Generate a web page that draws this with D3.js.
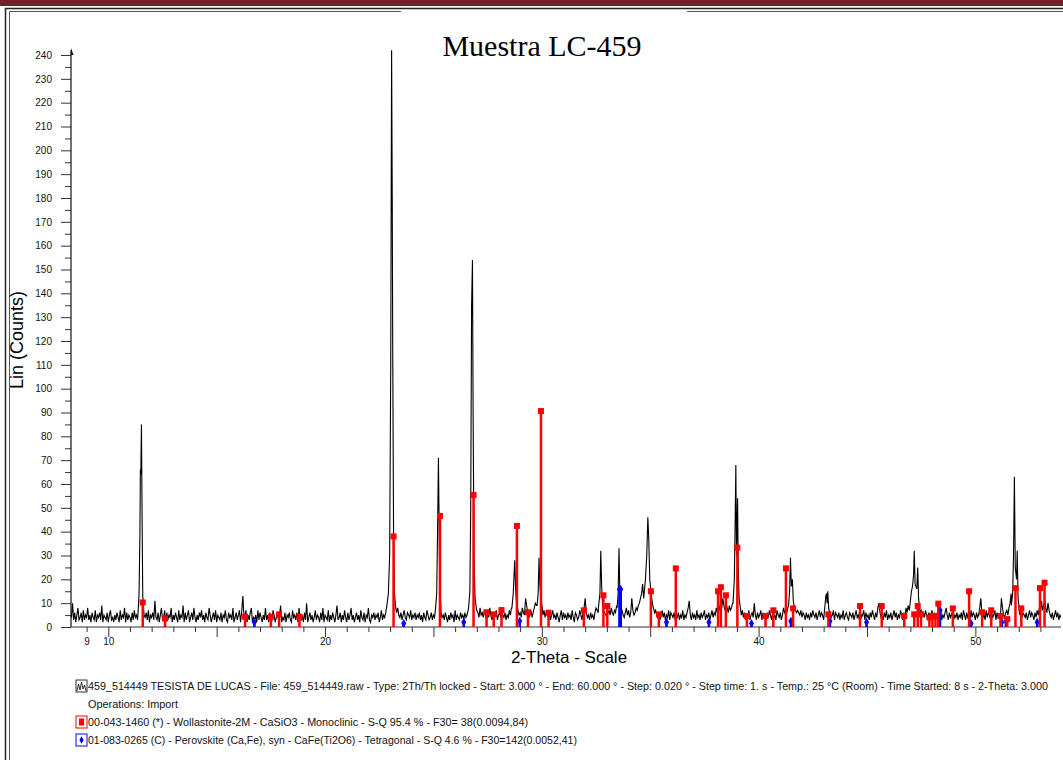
<!DOCTYPE html>
<html>
<head>
<meta charset="utf-8">
<script src="https://cdn.jsdelivr.net/npm/d3@7"></script>
<style>
body { margin: 0; background: #fff; }
svg { display: block; }
text { font-family: "Liberation Sans", Arial, sans-serif; }
</style>
</head>
<body>
<script>
// measured scan, 2-Theta from 8.30 deg, 0.05 deg per value, one row per degree
var scanStart = 8.30, scanStep = 0.05;
var scanRows = [
  [4,10,3,6,2,5,8,3,4,6,2,7,3,5,4,8,3,5,2,6],
  [4,3,7,2,5,4,6,3,9,2,5,4,3,6,2,5,7,3,4,2],
  [5,3,6,4,2,7,3,5,4,8,2,6,3,5,4,2,6,3,7,4],
  [5,3,8,4,6,9,7,5,4,6,3,7,2,5,4,6,3,11,4,3],
  [6,2,5,8,3,4,7,2,6,3,5,4,8,2,5,3,6,4,2,7],
  [3,5,4,9,2,6,3,5,7,2,4,6,3,8,4,2,5,3,6,4],
  [7,3,5,2,6,4,3,8,5,2,4,6,3,7,2,5,4,3,6,2],
  [5,4,7,3,2,6,4,5,3,8,2,4,6,3,5,7,2,4,3,6],
  [4,7,2,5,3,6,8,2,4,3,5,2,7,3,6,4,2,5,3,8],
  [3,5,2,6,4,3,7,5,2,4,6,3,5,9,2,4,3,6,2,5],
  [4,6,3,2,7,4,5,3,6,2,8,4,3,5,2,6,3,10,2,4],
  [6,3,5,2,4,7,3,5,4,2,6,3,8,2,5,4,3,7,2,5],
  [3,6,4,2,5,9,3,4,6,2,5,3,7,4,2,6,3,5,8,3],
  [5,2,4,6,3,5,2,7,4,3,6,2,5,4,8,3,2,5,4,6],
  [3,5,4,6,2,4,7,3,5,4,6,8,5,7,10,12,9,6,4,5],
  [6,8,5,4,6,3,5,7,4,3,6,5,4,7,3,5,4,6,3,5],
  [4,6,3,5,2,6,4,3,7,5,3,4,6,3,5,4,7,6,8,5],
  [9,6,4,5,3,6,4,2,5,3,6,4,5,2,7,3,5,4,3,6],
  [4,5,3,6,4,5,7,6,8,10,12,9,6,5,7,6,4,8,5,6],
  [4,7,5,3,6,4,8,5,3,6,4,5,7,3,5,6,4,7,5,4],
  [6,3,5,4,7,5,8,6,9,12,14,10,7,5,6,4,8,6,5,12],
  [9,6,4,5,7,4,6,8,10,9,16,20,12,7,6,5,7,4,6,5],
  [4,6,3,5,7,4,5,3,6,4,2,5,7,3,6,4,5,3,6,4],
  [5,3,7,4,2,6,5,3,4,7,5,3,6,8,12,6,4,5,3,6],
  [4,5,3,6,8,7,6,9,10,14,12,8,6,5,4,6,7,5,8,6],
  [5,7,6,9,8,12,14,10,7,5,4,6,8,5,7,4,6,12,7,5],
  [6,8,7,9,10,12,14,18,22,30,40,46,35,20,14,12,9,8,6,7],
  [5,4,6,3,5,7,4,6,3,5,4,7,3,6,5,4,6,3,5,4],
  [6,3,5,4,7,3,5,4,6,8,11,5,3,6,4,5,3,7,4,5],
  [3,6,4,5,7,3,5,4,6,3,5,7,4,6,5,8,6,9,7,11],
  [8,12,9,7,10,8,6,9,7,8,10,9,8,6,7,5,6,4,5,7],
  [4,6,3,5,4,7,3,5,6,4,10,5,3,6,4,5,7,3,6,4],
  [5,3,6,4,7,5,3,6,4,5,3,7,5,4,6,3,5,8,6,7],
  [6,8,7,9,8,10,9,8,7,6,7,6,5,7,4,6,5,3,6,4],
  [5,3,6,4,7,5,4,6,3,5,7,4,6,5,3,6,4,8,6,7],
  [6,4,5,7,3,6,5,4,6,3,5,4,7,3,5,6,4,3,6,5],
  [4,6,3,5,7,4,5,3,6,4,5,7,3,6,4,5,3,6,4,7],
  [5,3,6,4,8,10,6,4,5,3,6,4,7,3,5,4,6,3,5,7],
  [4,6,3,5,4,7,5,3,6,4,8,6,9,7,10,12,15,20,31,18],
  [24,12,8,6,7,5,6,4,7,5,3,6,4,5,7,3,6,4,5,3],
  [6,4,7,3,5,4,6,8,5,3,6,4,5,7,3,5,4,6,3,5],
  [4,6,3,7,5,3,6,4,5,3,7,4,6,5,3,6,4,5,8,12],
  [6,4,5,3,7,4,6,5,3,6,4,5,7,3,6,4,5,3,12,8],
  [5,4,6,7,5,8,10,14,30,63,31,15,9,7,6,5,7,4,6,5],
  [4,6,3,5,7,4,6,5,3,6,4,7,5,8,6,11,7,9,11,8],
  [6,10,7,5,4,6,3,5,7,4,6,3,5,4]
];

// reflections read at finer spacing: [2-Theta, counts]
var peakProfiles = [
  [[11.38,7],[11.42,14],[11.46,40],[11.48,66],[11.50,64],[11.53,85],[11.56,45],[11.59,13],[11.63,8]],
  [[16.15,6],[16.19,11],[16.21,13],[16.24,7]],
  [[22.85,9],[22.92,14],[22.98,30],[23.03,110],[23.07,242],[23.10,178],[23.12,120],[23.16,40],[23.20,14],[23.26,8]],
  [[25.10,8],[25.15,14],[25.19,40],[25.23,71],[25.26,45],[25.29,18],[25.34,9]],
  [[26.62,8],[26.68,15],[26.72,50],[26.76,135],[26.80,154],[26.83,90],[26.87,30],[26.92,12],[26.98,8]],
  [[28.62,8],[28.68,14],[28.72,22],[28.75,28],[28.79,16],[28.84,9]],
  [[29.78,9],[29.83,14],[29.87,29],[29.91,18],[29.96,12],[30.02,8]],
  [[32.62,9],[32.68,14],[32.72,32],[32.76,17],[32.80,10],[32.85,7]],
  [[33.47,8],[33.52,14],[33.56,33],[33.60,14],[33.65,8]],
  [[34.70,12],[34.78,20],[34.84,30],[34.89,46],[34.93,38],[34.98,20],[35.05,13],[35.12,9]],
  [[38.82,10],[38.88,20],[38.92,45],[38.95,68],[38.98,30],[39.03,54],[39.06,25],[39.10,12],[39.16,8]],
  [[41.38,9],[41.43,15],[41.47,29],[41.51,17],[41.56,20],[41.60,11],[41.66,7]],
  [[43.05,8],[43.10,13],[43.13,14],[43.16,10],[43.19,15],[43.23,8]],
  [[46.98,9],[47.05,15],[47.10,17],[47.15,22],[47.18,32],[47.22,18],[47.30,16],[47.34,25],[47.38,12],[47.44,7]],
  [[51.66,9],[51.72,14],[51.76,30],[51.80,63],[51.84,25],[51.90,20],[51.93,32],[51.97,12],[52.03,7]]
];

// 00-043-1460 Wollastonite-2M sticks [2-Theta, counts]
var wollastonite = [
  [11.59,10.3],[12.62,3.6],[16.31,4.3],[17.50,4.3],[17.88,5.3],[18.82,4.3],
  [23.16,38],[25.30,46.6],[26.85,55.4],[27.45,6.2],[27.78,5.3],[28.14,7.1],
  [28.85,42.4],[29.36,6.2],[29.96,90.6],[30.31,6],[31.94,7],[32.84,13.3],
  [33.02,8.8],[35.03,15],[35.40,5.3],[36.18,24.6],[38.13,15],[38.26,16.7],
  [38.49,13.3],[39.02,33.3],[39.46,4.6],[40.32,4.6],[40.68,7],[41.26,24.6],
  [41.59,7.8],[43.22,5.3],[44.68,8.8],[45.68,8.8],[46.72,4.6],[47.18,5.3],
  [47.34,8.8],[47.49,5.3],[47.88,4],[48.02,4.6],[48.16,4.6],[48.29,9.8],
  [48.96,7.8],[49.71,15],[50.31,6.2],[50.73,7],[51.16,4.6],[51.47,3.3],
  [51.85,16.3],[52.12,7.8],[52.98,16.3],[53.19,18.6]
];

// 01-083-0265 Perovskite sticks [2-Theta, counts]
var perovskite = [
  [16.74,2],[23.63,1.5],[26.40,2],[28.98,2.5],[33.58,15.8],[33.64,15.8],
  [35.75,2],[37.71,2],[39.67,1.5],[41.49,2.5],[43.29,2.5],[44.98,2],
  [48.37,7],[49.80,1.5],[51.22,2],[51.41,2.5],[52.85,2]
];

var xTickLabels = [9, 10, 20, 30, 40, 50];
var legendLines = [
  "459_514449 TESISTA DE LUCAS - File: 459_514449.raw - Type: 2Th/Th locked - Start: 3.000 ° - End: 60.000 ° - Step: 0.020 ° - Step time: 1. s - Temp.: 25 °C (Room) - Time Started: 8 s - 2-Theta: 3.000",
  "Operations: Import",
  "00-043-1460 (*) - Wollastonite-2M - CaSiO3 - Monoclinic - S-Q 95.4 % - F30= 38(0.0094,84)",
  "01-083-0265 (C) - Perovskite (Ca,Fe), syn - CaFe(Ti2O6) - Tetragonal - S-Q 4.6 % - F30=142(0.0052,41)"
];

var width = 1063, height = 760;
var plot = {left: 71, right: 1061, top: 55, bottom: 627};

var points = [];
scanRows.forEach(function(row, r) {
  row.forEach(function(v, i) {
    points.push([+(scanStart + r + i * scanStep).toFixed(2), v]);
  });
});
peakProfiles.forEach(function(p) {
  var lo = p[0][0], hi = p[p.length - 1][0];
  points = points.filter(function(d) { return d[0] < lo || d[0] > hi; }).concat(p);
});
points.sort(function(a, b) { return a[0] - b[0]; });

var x = d3.scaleLinear().domain([8.28, 53.95]).range([plot.left, plot.right]);
var y = d3.scaleLinear().domain([0, 240]).range([plot.bottom, plot.top]);

var svg = d3.select("body").append("svg")
    .attr("width", width)
    .attr("height", height);

// page frame
svg.append("rect").attr("x", 0).attr("y", 0).attr("width", width).attr("height", 6).attr("fill", "#6b2427");
svg.append("path").attr("d", "M5.5,760V8.5H1063").attr("fill", "none").attr("stroke", "#222").attr("stroke-width", 1.5);
svg.append("path").attr("d", "M9.5,760V11.5H1063").attr("fill", "none").attr("stroke", "#555").attr("stroke-width", 1);
svg.append("rect").attr("x", 401).attr("y", 10).attr("width", 286).attr("height", 4).attr("fill", "#fff");

svg.append("text")
    .attr("x", 542).attr("y", 56)
    .attr("text-anchor", "middle")
    .style("font-family", "'Liberation Serif', 'Times New Roman', serif")
    .style("font-size", "30px")
    .text("Muestra LC-459");

svg.append("defs").append("clipPath").attr("id", "clip")
  .append("rect").attr("x", plot.left).attr("y", 40).attr("width", plot.right - plot.left).attr("height", plot.bottom - 40);

// y axis: labelled ticks every 10, minor every 5
var yMajor = d3.range(0, 241, 10);
var yMinor = d3.range(5, 240, 10);
svg.append("g").attr("transform", "translate(" + plot.left + ",0)")
    .call(d3.axisLeft(y).tickValues(yMajor).tickSize(10).tickPadding(9).tickSizeOuter(0));
svg.append("g").attr("transform", "translate(" + plot.left + ",0)")
    .call(d3.axisLeft(y).tickValues(yMinor).tickSize(6).tickFormat("").tickSizeOuter(0));

// x axis: ticks every degree, longer every 5
var xMinor = d3.range(9, 54).filter(function(d) { return d % 5 !== 0; });
var xMajor = d3.range(10, 54, 5);
svg.append("g").attr("transform", "translate(0," + plot.bottom + ")")
    .call(d3.axisBottom(x).tickValues(xMinor).tickSize(5).tickFormat("").tickSizeOuter(0));
svg.append("g").attr("transform", "translate(0," + plot.bottom + ")")
    .call(d3.axisBottom(x).tickValues(xMajor).tickSize(10).tickFormat("").tickSizeOuter(0));
svg.append("g").attr("class", "xlab").attr("transform", "translate(0," + plot.bottom + ")")
    .call(d3.axisBottom(x).tickValues(xTickLabels).tickSize(0).tickPadding(11).tickFormat(d3.format("d")));

svg.selectAll(".domain").remove();
svg.selectAll(".tick line").attr("stroke", "#333");
svg.selectAll(".tick text").style("font-family", "'Liberation Sans', Arial, sans-serif").style("font-size", "10px").attr("fill", "#111");
svg.selectAll(".xlab .tick line").remove();

svg.append("line").attr("x1", plot.left).attr("x2", plot.right).attr("y1", plot.bottom).attr("y2", plot.bottom)
    .attr("stroke", "#333").attr("stroke-width", 1.2);
svg.append("line").attr("x1", plot.left).attr("x2", plot.left).attr("y1", plot.bottom).attr("y2", 50)
    .attr("stroke", "#111").attr("stroke-width", 1.2);
svg.append("path").attr("d", "M" + plot.left + ",48l2.5,7h-2.5z").attr("fill", "#111");

// measured pattern
svg.append("path")
    .datum(points)
    .attr("clip-path", "url(#clip)")
    .attr("fill", "none")
    .attr("stroke", "#000")
    .attr("stroke-width", 1.1)
    .attr("d", d3.line().x(function(d) { return x(d[0]); }).y(function(d) { return y(d[1]); }));

// reference sticks
var gB = svg.append("g");
gB.selectAll("line").data(perovskite).enter().append("line")
    .attr("x1", function(d) { return x(d[0]); }).attr("x2", function(d) { return x(d[0]); })
    .attr("y1", y(0)).attr("y2", function(d) { return y(d[1]); })
    .attr("stroke", "#0000ff").attr("stroke-width", 2.5);
gB.selectAll("path").data(perovskite).enter().append("path")
    .attr("d", d3.symbol(d3.symbolDiamond, 22))
    .attr("transform", function(d) { return "translate(" + x(d[0]) + "," + y(d[1]) + ")"; })
    .attr("fill", "#0000ff");

var gR = svg.append("g");
gR.selectAll("line").data(wollastonite).enter().append("line")
    .attr("x1", function(d) { return x(d[0]); }).attr("x2", function(d) { return x(d[0]); })
    .attr("y1", y(0)).attr("y2", function(d) { return y(d[1]); })
    .attr("stroke", "#ff0000").attr("stroke-width", 2.5);
gR.selectAll("rect").data(wollastonite).enter().append("rect")
    .attr("x", function(d) { return x(d[0]) - 3; })
    .attr("y", function(d) { return y(d[1]) - 3; })
    .attr("width", 6).attr("height", 6)
    .attr("fill", "#ff0000");

// axis titles
svg.append("text")
    .attr("transform", "translate(23,340) rotate(-90)")
    .attr("text-anchor", "middle")
    .style("font-size", "18px")
    .text("Lin (Counts)");
svg.append("text")
    .attr("x", 569).attr("y", 663)
    .attr("text-anchor", "middle")
    .style("font-size", "17px")
    .text("2-Theta - Scale");

// legend
var legendY = [690, 708, 726, 744];
var legendW = [960, 90, 440, 489];
var lg = svg.append("g");
lg.selectAll("text").data(legendLines).enter().append("text")
    .attr("x", 88)
    .attr("y", function(d, i) { return legendY[i]; })
    .attr("textLength", function(d, i) { return legendW[i]; })
    .attr("lengthAdjust", "spacingAndGlyphs")
    .style("font-size", "10.5px")
    .attr("fill", "#111")
    .text(function(d) { return d; });

var icon = lg.append("g").attr("transform", "translate(76," + (legendY[0] - 10) + ")");
icon.append("rect").attr("width", 11).attr("height", 12).attr("fill", "#fff").attr("stroke", "#333");
icon.append("path").attr("d", "M1,11L2.5,4L4,10L5.5,2L7,9L8.5,5L10,11").attr("fill", "none").attr("stroke", "#000").attr("stroke-width", 0.8);

var iconR = lg.append("g").attr("transform", "translate(76," + (legendY[2] - 10) + ")");
iconR.append("rect").attr("width", 11).attr("height", 12).attr("fill", "#fff").attr("stroke", "#ff0000");
iconR.append("rect").attr("x", 3).attr("y", 2.5).attr("width", 5).attr("height", 7).attr("fill", "#ff0000");

var iconB = lg.append("g").attr("transform", "translate(76," + (legendY[3] - 10) + ")");
iconB.append("rect").attr("width", 11).attr("height", 12).attr("fill", "#fff").attr("stroke", "#0000ff");
iconB.append("path").attr("d", d3.symbol(d3.symbolDiamond, 16)).attr("transform", "translate(5.5,6)").attr("fill", "#0000ff");
</script>
</body>
</html>
